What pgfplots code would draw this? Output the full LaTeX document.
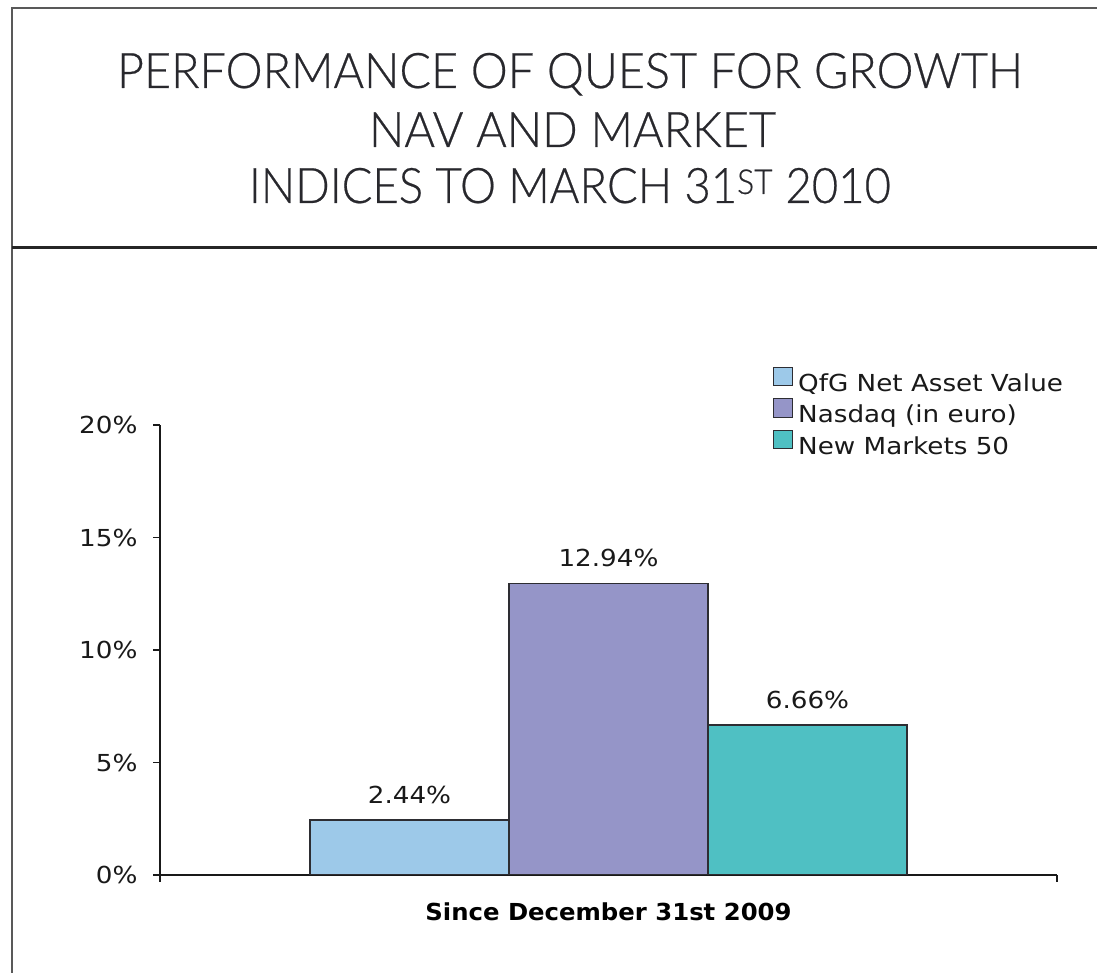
\documentclass[border=0pt]{standalone}
\usepackage{pgfplots}
\pgfplotsset{compat=1.18}
\usepackage{fontspec}
\usepackage{graphicx}
\setmainfont{DejaVu Sans}[FakeStretch=1.12, BoldFeatures={FakeStretch=1.04}]
\IfFontExistsTF{Lato Light}{\newfontfamily\titlefont{Lato Light}[FakeBold=0.5]}{\newfontfamily\titlefont{Lato}}
\definecolor{cA}{RGB}{157,201,233}
\definecolor{cB}{RGB}{149,149,200}
\definecolor{cC}{RGB}{79,192,195}
\definecolor{edge}{RGB}{45,45,50}
\definecolor{ttl}{RGB}{40,40,45}
\newcommand{\cf}{\fontsize{23.4}{28}\selectfont}
\begin{document}
\begin{tikzpicture}[x=1pt,y=1pt]
\path[use as bounding box] (0,0) rectangle (1097,973);
% frame
\draw[line width=2pt, color=black!65] (12,0) -- (12,965) -- (1097,965);
\draw[line width=3pt, color=black!85] (12,725) -- (1097,725);
% title
\node[anchor=base, inner sep=0pt, color=ttl] at (570,885) {\resizebox{906pt}{\height}{\titlefont\fontsize{49}{49}\selectfont PERFORMANCE OF QUEST FOR GROWTH}};
\node[anchor=base, inner sep=0pt, color=ttl] at (572.5,826) {\resizebox{407pt}{\height}{\titlefont\fontsize{49}{49}\selectfont NAV AND MARKET}};
\node[anchor=base, inner sep=0pt, color=ttl] at (570,770) {\resizebox{642pt}{\height}{\titlefont\fontsize{49}{49}\selectfont INDICES TO MARCH 31\textsuperscript{ST} 2010}};
\begin{axis}[
  at={(160pt,98pt)}, anchor=south west,
  scale only axis, width=897pt, height=450pt,
  xmin=-1, xmax=1, ymin=0, ymax=20,
  axis lines*=left,
  axis line style={line width=1.5pt, color=black!90},
  every tick/.style={line width=1.5pt, color=black!90},
  tick align=outside, major tick length=7pt,
  ytick={0,5,10,15,20},
  yticklabel={\pgfmathprintnumber{\tick}\%},
  yticklabel style={font=\cf, color=black!90, xshift=-12pt},
  /pgf/number format/assume math mode=true,
  xtick=\empty,
  extra x ticks={-1,1}, extra x tick labels={},
  xlabel={\textbf{Since December 31st 2009}},
  xlabel style={at={(0.5,0)}, anchor=base, yshift=-46pt, font=\cf, inner sep=0pt},
  ybar=0pt, bar width=199pt,
  nodes near coords={\pgfmathprintnumber[fixed,precision=2,fixed zerofill]{\pgfplotspointmeta}\%},
  nodes near coords style={font=\cf, color=black!90, anchor=base, inner sep=0pt, yshift=17pt},
  legend style={draw=none, fill=none, at={(0.6834,1.13)}, anchor=north west,
    inner sep=0pt, font=\cf, row sep=2pt, column sep=5pt,
    nodes={inner sep=0pt, text height=17pt, text depth=5pt, color=black!90}},
  legend cell align=left,
  legend image code/.code={\draw[#1, draw=edge, line width=1pt] (0pt,-0.5pt) rectangle (19pt,18pt);},
]
\addplot[fill=cA, draw=edge, line width=1.3pt] coordinates {(0,2.44)};
\addplot[fill=cB, draw=edge, line width=1.3pt] coordinates {(0,12.94)};
\addplot[fill=cC, draw=edge, line width=1.3pt] coordinates {(0,6.66)};
\legend{QfG Net Asset Value, Nasdaq (in euro), New Markets 50}
\end{axis}
\end{tikzpicture}
\end{document}
